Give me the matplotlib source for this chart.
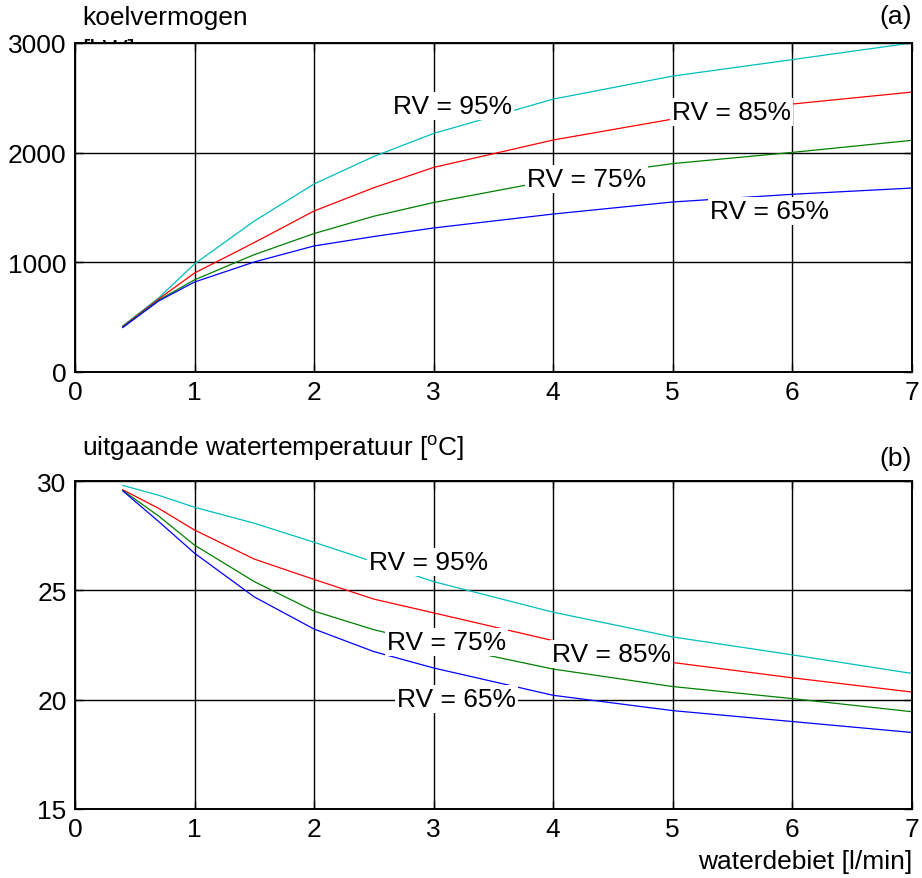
import numpy as np
import matplotlib
matplotlib.use("Agg")
import matplotlib.pyplot as plt

plt.rcParams['font.family'] = ['Liberation Sans', 'DejaVu Sans']
plt.rcParams['mathtext.fontset'] = 'custom'
plt.rcParams['mathtext.rm'] = 'Liberation Sans'

# waterdebiet [l/min]
debiet = [0.4, 0.7, 1.0, 1.5, 2.0, 2.5, 3.0, 4.0, 5.0, 6.0, 7.0]

# koelvermogen [kW] per relatieve vochtigheid
kv_95 = [420, 675, 985, 1376, 1714, 1965, 2175, 2488, 2698, 2848, 3000]
kv_85 = [415, 665, 902, 1180, 1468, 1680, 1865, 2115, 2306, 2443, 2552]
kv_75 = [410, 655, 840, 1070, 1262, 1420, 1545, 1750, 1900, 2002, 2112]
kv_65 = [405, 647, 820, 1003, 1149, 1235, 1313, 1440, 1550, 1620, 1677]

# uitgaande watertemperatuur [oC]
tw_95 = [29.8, 29.35, 28.8, 28.07, 27.2, 26.3, 25.4, 24.0, 22.87, 22.05, 21.2]
tw_85 = [29.6, 28.75, 27.76, 26.43, 25.5, 24.6, 23.97, 22.7, 21.7, 21.0, 20.35]
tw_75 = [29.57, 28.4, 27.07, 25.4, 24.05, 23.2, 22.55, 21.4, 20.6, 20.05, 19.45]
tw_65 = [29.55, 28.15, 26.7, 24.7, 23.23, 22.2, 21.45, 20.2, 19.5, 19.0, 18.5]

rv_labels = ['RV = 95%', 'RV = 85%', 'RV = 75%', 'RV = 65%']
colors = ['#00bfbf', '#ff0000', '#008000', '#0000ff']

# label positions (x, y) on each panel
pos_a = [(3.16, 2425), (5.49, 2370), (4.28, 1760), (5.81, 1468)]
pos_b = [(2.96, 26.3), (4.49, 22.09), (3.11, 22.64), (3.19, 20.03)]

fig = plt.figure(figsize=(9.22, 8.79), dpi=100)
ax1 = fig.add_axes([0.0813, 0.5757, 0.9077, 0.3743])
ax2 = fig.add_axes([0.0813, 0.0785, 0.9077, 0.3731])

fs = 19

def style(ax, yticks):
    ax.set_xlim(0, 7)
    ax.set_xticks(range(0, 8))
    ax.set_yticks(yticks)
    ax.set_ylim(yticks[0], yticks[-1])
    ax.grid(True, color='black', linewidth=1.0)
    ax.set_axisbelow(True)
    ax.tick_params(direction='in', length=6, width=1, labelsize=fs,
                   top=True, right=True, pad=6)
    for s in ax.spines.values():
        s.set_linewidth(1.4)

for ax, series, pos in [(ax1, [kv_95, kv_85, kv_75, kv_65], pos_a),
                        (ax2, [tw_95, tw_85, tw_75, tw_65], pos_b)]:
    for vals, c in zip(series, colors):
        ax.plot(debiet, vals, color=c, linewidth=0.9, zorder=2)
    for lab, (px, py) in zip(rv_labels, pos):
        ax.text(px, py, lab, fontsize=fs, ha='center', va='center', zorder=5,
                bbox=dict(facecolor='white', edgecolor='none', pad=1.5))

style(ax1, [0, 1000, 2000, 3000])
style(ax2, [15, 20, 25, 30])

fig.text(82 / 922, 1 - 18 / 879, 'koelvermogen', fontsize=fs, ha='left', va='center')
# unit label mostly hidden behind the axes, as in the original
fig.text(82 / 922, 1 - 51 / 879, '[kW]', fontsize=fs, ha='left', va='center', zorder=-1)
fig.text(912 / 922, 1 - 17 / 879, '(a)', fontsize=fs, ha='right', va='center')
fig.text(82 / 922, 1 - 448 / 879, 'uitgaande watertemperatuur [$^{\\mathrm{o}}$C]',
         fontsize=fs, ha='left', va='center')
fig.text(912 / 922, 1 - 459 / 879, '(b)', fontsize=fs, ha='right', va='center')
fig.text(912 / 922, 1 - 862 / 879, 'waterdebiet [l/min]', fontsize=fs, ha='right', va='center')

fig.savefig('out.png', dpi=100)
